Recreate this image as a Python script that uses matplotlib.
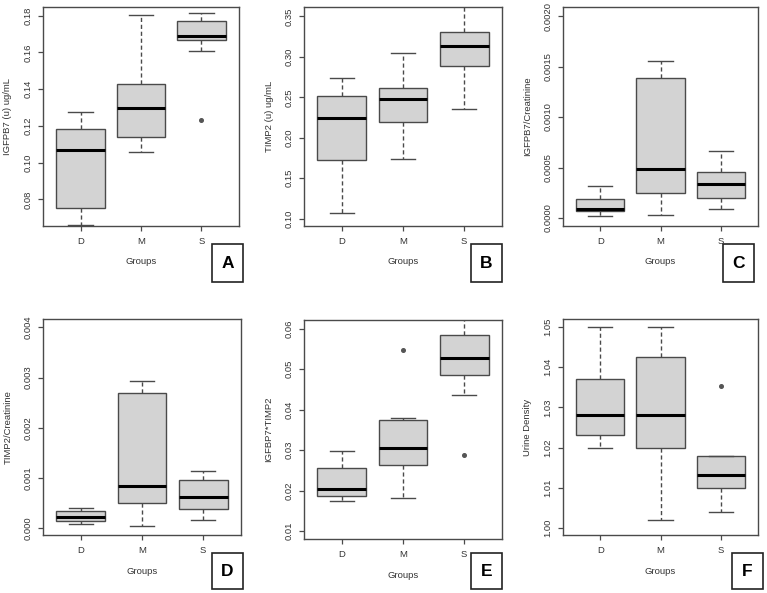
import matplotlib
matplotlib.use("Agg")
import matplotlib.pyplot as plt
from matplotlib.patches import Rectangle

plt.rcParams['font.family'] = ['Liberation Sans', 'DejaVu Sans']

W, H = 767, 593

groups = ["D", "M", "S"]

# five-number summaries per group: [low whisker, Q1, median, Q3, high whisker]
igfbp7 = [[0.066, 0.0753, 0.1067, 0.1182, 0.1275],
          [0.106, 0.1142, 0.1296, 0.1429, 0.1802],
          [0.1605, 0.1667, 0.1687, 0.1773, 0.1813]]
igfbp7_out = [[], [], [0.1231]]

timp2 = [[0.107, 0.1727, 0.2244, 0.2512, 0.2744],
         [0.1735, 0.2198, 0.2475, 0.262, 0.3045],
         [0.2351, 0.2888, 0.3136, 0.3302, 0.366]]
timp2_out = [[], [], []]

igfbp7_cr = [[0.000023, 0.000066, 0.000086, 0.000188, 0.000318],
             [0.00003, 0.000245, 0.000489, 0.001385, 0.001554],
             [0.000086, 0.000198, 0.00034, 0.000453, 0.000661]]
igfbp7_cr_out = [[], [], []]

timp2_cr = [[0.000073, 0.000132, 0.000219, 0.000344, 0.00039],
            [0.000046, 0.000497, 0.000841, 0.002689, 0.00294],
            [0.000159, 0.000377, 0.000623, 0.00096, 0.001132]]
timp2_cr_out = [[], [], []]

product = [[0.01758, 0.01873, 0.02046, 0.02565, 0.02969],
           [0.01832, 0.02623, 0.03059, 0.03735, 0.03784],
           [0.04369, 0.04847, 0.05267, 0.05843, 0.0635]]
product_out = [[], [0.05481], [0.02878]]

density = [[1.020, 1.0231, 1.0282, 1.037, 1.050],
           [1.0021, 1.020, 1.0282, 1.0426, 1.050],
           [1.004, 1.010, 1.0131, 1.018, 1.018]]
density_out = [[], [], [1.0352]]

panels = [
    # stats, outliers, ylabel, yticks, ylim, fmt, letter, axes px (l, r, t, b), letter box px
    (igfbp7, igfbp7_out, "IGFPB7 (u) ug/mL", [0.08, 0.10, 0.12, 0.14, 0.16, 0.18],
     (0.0655, 0.1847), "{:.2f}", "A", (43, 239, 7, 226), (212, 243, 244, 282)),
    (timp2, timp2_out, "TIMP2 (u) ug/mL", [0.10, 0.15, 0.20, 0.25, 0.30, 0.35],
     (0.0909, 0.3616), "{:.2f}", "B", (304, 502, 7, 226), (471, 502, 244, 282)),
    (igfbp7_cr, igfbp7_cr_out, "IGFPB7/Creatinine", [0, 0.0005, 0.0010, 0.0015, 0.0020],
     (-0.000079, 0.00209), "{:.4f}", "C", (563, 758, 7, 226), (723, 754, 244, 282)),
    (timp2_cr, timp2_cr_out, "TIMP2/Creatinine", [0, 0.001, 0.002, 0.003, 0.004],
     (-0.000139, 0.004166), "{:.3f}", "D", (43, 241, 319, 535), (212, 243, 553, 589)),
    (product, product_out, "IGFBP7*TIMP2", [0.01, 0.02, 0.03, 0.04, 0.05, 0.06],
     (0.0081, 0.0621), "{:.2f}", "E", (304, 502, 320, 539), (471, 502, 553, 589)),
    (density, density_out, "Urine Density", [1.00, 1.01, 1.02, 1.03, 1.04, 1.05],
     (0.99826, 1.05198), "{:.2f}", "F", (563, 758, 319, 535), (732, 763, 553, 589)),
]

edge = "#4a4a4a"
txt = "#333333"

fig = plt.figure(figsize=(W / 100, H / 100), dpi=100)

for stats, outs, ylab, yticks, ylim, fmt, letter, (l, r, t, b), (bl, br, bt, bb) in panels:
    ax = fig.add_axes([l / W, 1 - b / H, (r - l) / W, (b - t) / H])
    bxp_stats = []
    for g, s, o in zip(groups, stats, outs):
        bxp_stats.append(dict(label=g, whislo=s[0], q1=s[1], med=s[2], q3=s[3],
                              whishi=s[4], fliers=o))
    ax.bxp(bxp_stats, positions=[1, 2, 3], widths=0.8, capwidths=0.4,
           patch_artist=True,
           boxprops=dict(facecolor="#d3d3d3", edgecolor=edge, linewidth=1.0),
           medianprops=dict(color="black", linewidth=2.2, solid_capstyle="butt"),
           whiskerprops=dict(color=edge, linewidth=1.0, linestyle=(0, (3, 2))),
           capprops=dict(color=edge, linewidth=1.0),
           flierprops=dict(marker="o", markersize=2.6, markerfacecolor="#555555",
                           markeredgecolor="#555555"))
    ax.set_xlim(0.38, 3.62)
    ax.set_ylim(*ylim)
    ax.set_yticks(yticks)
    ax.set_yticklabels([fmt.format(v) for v in yticks], rotation=90, va="center")
    for sp in ax.spines.values():
        sp.set_color(edge)
        sp.set_linewidth(1.0)
    ax.tick_params(axis="both", length=3.5, width=0.9, color=edge,
                   labelsize=6.8, labelcolor=txt)
    ax.tick_params(axis="y", pad=4)
    ax.tick_params(axis="x", pad=4.5)
    # axis titles
    fig.text((l - 35) / W, 1 - ((t + b) / 2) / H, ylab, rotation=90,
             ha="center", va="center", fontsize=6.8, color=txt)
    fig.text(((l + r) / 2) / W, 1 - (b + 36) / H, "Groups",
             ha="center", va="center", fontsize=6.8, color=txt)
    # panel letter box
    fig.patches.append(Rectangle((bl / W, 1 - bb / H), (br - bl) / W, (bb - bt) / H,
                                 transform=fig.transFigure, facecolor="white",
                                 edgecolor="#222222", linewidth=1.2, zorder=-1))
    fig.text(((bl + br) / 2) / W, 1 - ((bt + bb) / 2) / H, letter,
             ha="center", va="center", fontsize=12.5, fontweight="bold", color="black")

fig.savefig("out.png", dpi=100)
